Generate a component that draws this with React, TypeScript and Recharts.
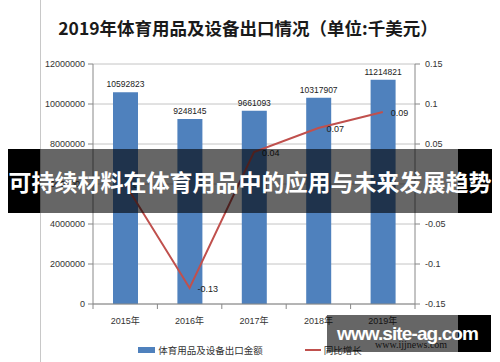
import React from "react";
import {
  ComposedChart,
  Bar,
  Line,
  XAxis,
  YAxis,
  CartesianGrid,
  LabelList,
  Legend,
} from "recharts";

// values
const years = ["2015年", "2016年", "2017年", "2018年", "2019年"];
const exportAmount = [10592823, 9248145, 9661093, 10317907, 11214821];
const yoyGrowth = [0, -0.13, 0.04, 0.07, 0.09];
const leftTicks = [0, 2000000, 4000000, 6000000, 8000000, 10000000, 12000000];
const rightTicks = [-0.15, -0.1, -0.05, 0, 0.05, 0.1, 0.15];

const barName = "体育用品及设备出口金额";
const lineName = "同比增长";
const title = "2019年体育用品及设备出口情况（单位:千美元）";
const bannerText = "可持续材料在体育用品中的应用与未来发展趋势";
const watermark = "www.site-ag.com";
const watermarkSub = "www.ijjnews.com";

const BAR_COLOR = "#4F81BD";
const LINE_COLOR = "#C0504D";
const FONT = "'Liberation Sans', 'Noto Sans CJK SC', sans-serif";
const CJK = "'Noto Sans CJK SC', sans-serif";

const W = 500;
const H = 362;
const margin = { top: 64, right: 40, left: 40, bottom: 8 };
const leftAxisW = 53;
const rightAxisW = 45;
const plotW = W - margin.left - margin.right - leftAxisW - rightAxisW;
const band = plotW / years.length;

const data = years.map((year, i) => ({
  year,
  amount: exportAmount[i],
  growth: yoyGrowth[i],
}));

const XTick = (props: any) => {
  const { x, y, payload, index } = props;
  const axisY = y - 12;
  return (
    <g>
      <line x1={x - band / 2} x2={x - band / 2} y1={axisY} y2={axisY + 5} stroke="#888" />
      {index === years.length - 1 && (
        <line x1={x + band / 2} x2={x + band / 2} y1={axisY} y2={axisY + 5} stroke="#888" />
      )}
      <text x={x} y={y} dy={8} textAnchor="middle" fontSize={9} fill="#333" fontFamily={FONT}>
        {payload.value}
      </text>
    </g>
  );
};

const GrowthLabel = (props: any) => {
  const { x, y, value } = props;
  return (
    <text x={x + 8} y={y + 4} fontSize={9} fill="#222" fontFamily={FONT}>
      {String(value)}
    </text>
  );
};

const renderLegend = (props: any) => {
  const { payload } = props;
  return (
    <div style={{ display: "flex", justifyContent: "center", fontFamily: CJK, fontSize: 9.5, color: "#333" }}>
      {payload.map((entry: any, i: number) => (
        <div key={i} style={{ display: "flex", alignItems: "center", marginLeft: i > 0 ? 42 : 0 }}>
          {entry.type === "line" ? (
            <span style={{ display: "inline-block", width: 16, height: 2, background: entry.color, marginRight: 3 }} />
          ) : (
            <span style={{ display: "inline-block", width: 17, height: 6, background: entry.color, marginRight: 3 }} />
          )}
          <span>{entry.value}</span>
        </div>
      ))}
    </div>
  );
};

export default function App() {
  return (
    <div
      style={{
        position: "absolute",
        left: 0,
        top: 0,
        width: W,
        height: H,
        background: "#fff",
        overflow: "hidden",
      }}
    >
      {/* left border of the original picture */}
      <div style={{ position: "absolute", left: 40, top: 0, width: 1, height: H, background: "#c8c8c8" }} />

      <div
        style={{
          position: "absolute",
          left: 0,
          top: 15,
          width: W - 4,
          textAlign: "center",
          fontFamily: CJK,
          fontWeight: 700,
          fontSize: 17.5,
          color: "#1a1a1a",
        }}
      >
        {title}
      </div>

      <ComposedChart width={W} height={H} data={data} margin={margin}>
        <CartesianGrid vertical={false} stroke="#c4c4c4" yAxisId="left" />
        <XAxis
          dataKey="year"
          height={50}
          axisLine={{ stroke: "#888" }}
          tickLine={false}
          tickSize={0}
          tickMargin={12}
          tick={<XTick />}
          interval={0}
        />
        <YAxis
          yAxisId="left"
          width={leftAxisW}
          domain={[0, 12000000]}
          ticks={leftTicks}
          interval={0}
          axisLine={{ stroke: "#888" }}
          tickLine={{ stroke: "#888" }}
          tickSize={5}
          tickMargin={3}
          tick={{ fontSize: 9, fill: "#333", fontFamily: FONT }}
        />
        <YAxis
          yAxisId="right"
          orientation="right"
          width={rightAxisW}
          domain={[-0.15, 0.15]}
          ticks={rightTicks}
          interval={0}
          axisLine={{ stroke: "#888" }}
          tickLine={{ stroke: "#888" }}
          tickSize={5}
          tickMargin={5}
          tick={{ fontSize: 9, fill: "#333", fontFamily: FONT }}
        />
        <Legend
          layout="horizontal"
          verticalAlign="middle"
          align="center"
          wrapperStyle={{ top: 343, left: 0, width: W }}
          content={renderLegend}
        />
        <Bar
          yAxisId="left"
          dataKey="amount"
          name={barName}
          fill={BAR_COLOR}
          barSize={25}
          isAnimationActive={false}
        >
          <LabelList dataKey="amount" position="top" offset={5} fontSize={8.5} fill="#222" fontFamily={FONT} />
        </Bar>
        <Line
          yAxisId="right"
          dataKey="growth"
          name={lineName}
          type="linear"
          stroke={LINE_COLOR}
          strokeWidth={2}
          dot={false}
          isAnimationActive={false}
        >
          <LabelList dataKey="growth" content={<GrowthLabel />} />
        </Line>
      </ComposedChart>

      {/* second, faint watermark under the site-ag one */}
      <div
        style={{
          position: "absolute",
          left: 375,
          top: 339,
          fontFamily: "'Liberation Serif', serif",
          fontSize: 10,
          color: "#333",
        }}
      >
        {watermarkSub}
      </div>

      {/* title banner laid over the chart */}
      <div style={{ position: "absolute", left: 8, top: 149, width: 32, height: 64, background: "#000" }} />
      <div style={{ position: "absolute", left: 40, top: 149, width: 418, height: 64, background: "rgba(0,0,0,0.6)" }} />
      <div style={{ position: "absolute", left: 458, top: 149, width: 34, height: 64, background: "#000" }} />
      <div
        style={{
          position: "absolute",
          left: 0,
          top: 149,
          width: W,
          height: 64,
          lineHeight: "64px",
          textAlign: "center",
          fontFamily: CJK,
          fontWeight: 700,
          fontSize: 23,
          color: "#fff",
          whiteSpace: "nowrap",
        }}
      >
        {bannerText}
      </div>

      {/* site watermark */}
      <div style={{ position: "absolute", left: 327, top: 315, width: 131, height: 37, background: "rgba(0,0,0,0.6)" }} />
      <div style={{ position: "absolute", left: 458, top: 315, width: 33, height: 37, background: "#000" }} />
      <div
        style={{
          position: "absolute",
          left: 337,
          top: 315,
          height: 37,
          lineHeight: "37px",
          fontFamily: "'Liberation Sans', sans-serif",
          fontWeight: 700,
          fontSize: 19,
          letterSpacing: -0.9,
          color: "#fff",
          whiteSpace: "nowrap",
        }}
      >
        {watermark}
      </div>
    </div>
  );
}
